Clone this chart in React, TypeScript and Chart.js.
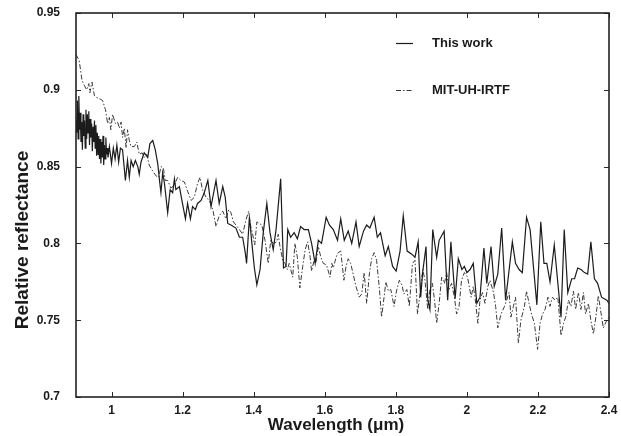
import React, { useEffect, useRef } from "react";
import { Chart, registerables } from "chart.js";

Chart.register(...registerables);

const seriesLabels = ["This work", "MIT-UH-IRTF"];
const xTitle = "Wavelength (\u03bcm)";
const yTitle = "Relative reflectance";
const xTickValues = [1, 1.2, 1.4, 1.6, 1.8, 2, 2.2, 2.4];
const yTickValues = [0.7, 0.75, 0.8, 0.85, 0.9, 0.95];

const thisWorkWavelength = [
  0.900, 0.902, 0.904, 0.906, 0.908, 0.910, 0.912, 0.914, 0.916, 0.918,
  0.920, 0.922, 0.924, 0.926, 0.928, 0.930, 0.932, 0.934, 0.936, 0.938,
  0.940, 0.942, 0.944, 0.946, 0.948, 0.950, 0.952, 0.954, 0.956, 0.958,
  0.960, 0.962, 0.964, 0.966, 0.968, 0.970, 0.972, 0.974, 0.976, 0.978,
  0.980, 0.982, 0.984, 0.986, 0.988, 0.990,
  0.994, 1.000, 1.005, 1.010, 1.015, 1.020, 1.025, 1.031, 1.039, 1.045,
  1.050, 1.055, 1.061, 1.067, 1.074, 1.078, 1.083, 1.092, 1.102, 1.108,
  1.116, 1.123, 1.130, 1.135, 1.139, 1.144, 1.149, 1.158, 1.165, 1.172,
  1.177, 1.181, 1.191, 1.198, 1.208, 1.214, 1.222, 1.228, 1.236, 1.242,
  1.252, 1.261, 1.271, 1.280, 1.294, 1.303, 1.313, 1.320, 1.327, 1.336,
  1.350, 1.360, 1.369, 1.377, 1.380, 1.388, 1.395, 1.402, 1.409, 1.418,
  1.427, 1.437, 1.446, 1.455, 1.463, 1.476, 1.484, 1.491, 1.496, 1.504,
  1.514, 1.523, 1.532, 1.542, 1.554, 1.563, 1.573, 1.582, 1.591, 1.604,
  1.613, 1.624, 1.636, 1.645, 1.655, 1.666, 1.676, 1.688, 1.697, 1.709,
  1.718, 1.727, 1.739, 1.748, 1.757, 1.770, 1.779, 1.791, 1.801, 1.812,
  1.821, 1.832, 1.845, 1.854, 1.863, 1.870, 1.876, 1.885, 1.890, 1.896,
  1.904, 1.915, 1.922, 1.936, 1.946, 1.955, 1.967, 1.976, 1.986, 1.993,
  2.000, 2.009, 2.018, 2.028, 2.037, 2.048, 2.056, 2.068, 2.077, 2.087,
  2.098, 2.109, 2.128, 2.137, 2.147, 2.156, 2.168, 2.178, 2.197, 2.208,
  2.217, 2.225, 2.234, 2.246, 2.265, 2.274, 2.284, 2.295, 2.303, 2.312,
  2.321, 2.331, 2.340, 2.349, 2.359, 2.368, 2.379, 2.394, 2.400,
];

const thisWorkReflectance = [
  0.880, 0.872, 0.893, 0.868, 0.896, 0.874, 0.885, 0.866, 0.879, 0.861,
  0.884, 0.870, 0.880, 0.862, 0.887, 0.868, 0.884, 0.872, 0.886, 0.864,
  0.881, 0.869, 0.878, 0.860, 0.876, 0.866, 0.880, 0.862, 0.877, 0.857,
  0.872, 0.858, 0.870, 0.855, 0.868, 0.852, 0.866, 0.856, 0.870, 0.851,
  0.864, 0.855, 0.869, 0.858, 0.862, 0.856,
  0.863, 0.852, 0.862, 0.855, 0.864, 0.853, 0.862, 0.861, 0.841, 0.854,
  0.843, 0.854, 0.850, 0.854, 0.850, 0.845, 0.853, 0.859, 0.856, 0.865,
  0.867, 0.861, 0.852, 0.841, 0.833, 0.846, 0.839, 0.820, 0.835, 0.833,
  0.842, 0.835, 0.837, 0.828, 0.816, 0.826, 0.816, 0.824, 0.822, 0.826,
  0.828, 0.833, 0.841, 0.824, 0.841, 0.826, 0.837, 0.830, 0.813, 0.812,
  0.810, 0.804, 0.804, 0.793, 0.787, 0.817, 0.800, 0.784, 0.773, 0.783,
  0.807, 0.826, 0.807, 0.796, 0.809, 0.842, 0.784, 0.785, 0.809, 0.804,
  0.807, 0.803, 0.811, 0.809, 0.809, 0.800, 0.787, 0.802, 0.800, 0.817,
  0.812, 0.809, 0.802, 0.816, 0.802, 0.808, 0.800, 0.814, 0.798, 0.808,
  0.812, 0.810, 0.817, 0.804, 0.807, 0.792, 0.798, 0.785, 0.782, 0.795,
  0.818, 0.795, 0.793, 0.791, 0.801, 0.765, 0.782, 0.798, 0.763, 0.757,
  0.809, 0.791, 0.802, 0.808, 0.763, 0.801, 0.764, 0.790, 0.783, 0.785,
  0.781, 0.783, 0.787, 0.761, 0.765, 0.797, 0.774, 0.798, 0.772, 0.780,
  0.810, 0.763, 0.801, 0.787, 0.783, 0.781, 0.817, 0.809, 0.760, 0.814,
  0.787, 0.787, 0.775, 0.799, 0.752, 0.809, 0.768, 0.777, 0.777, 0.784,
  0.783, 0.781, 0.780, 0.801, 0.777, 0.774, 0.765, 0.763, 0.761,
];

const mitWavelength = [
  0.900, 0.909, 0.917, 0.923, 0.930, 0.936, 0.939, 0.945, 0.952, 0.958,
  0.968, 0.975, 0.983, 0.989, 0.994, 0.998, 1.003, 1.011, 1.017, 1.022,
  1.027, 1.031, 1.036, 1.041, 1.045, 1.050, 1.055, 1.064, 1.071, 1.078,
  1.086, 1.092, 1.099, 1.106, 1.116, 1.125, 1.133, 1.139, 1.146, 1.151,
  1.158, 1.167, 1.177, 1.186, 1.195, 1.205, 1.214, 1.224, 1.233, 1.242,
  1.249, 1.256, 1.266, 1.275, 1.285, 1.294, 1.303, 1.313, 1.322, 1.330,
  1.336, 1.343, 1.350, 1.360, 1.369, 1.378, 1.386, 1.392, 1.397, 1.403,
  1.409, 1.423, 1.432, 1.441, 1.448, 1.455, 1.465, 1.469, 1.474, 1.482,
  1.488, 1.495, 1.500, 1.510, 1.516, 1.523, 1.530, 1.538, 1.545, 1.552,
  1.559, 1.563, 1.570, 1.575, 1.582, 1.589, 1.596, 1.605, 1.615, 1.620,
  1.624, 1.632, 1.638, 1.645, 1.654, 1.660, 1.666, 1.673, 1.679, 1.688,
  1.697, 1.704, 1.711, 1.718, 1.726, 1.732, 1.739, 1.746, 1.754, 1.760,
  1.767, 1.772, 1.779, 1.786, 1.795, 1.802, 1.810, 1.817, 1.823, 1.831,
  1.838, 1.847, 1.854, 1.861, 1.868, 1.876, 1.882,
  1.890, 1.896, 1.903, 1.909, 1.915, 1.922, 1.929, 1.937, 1.943, 1.950,
  1.957, 1.965, 1.971, 1.978, 1.985, 1.993, 2.002, 2.012, 2.018, 2.023,
  2.031, 2.037, 2.044, 2.051, 2.059, 2.065, 2.075, 2.081, 2.087, 2.096,
  2.106, 2.112, 2.119, 2.124, 2.131, 2.137, 2.145, 2.152, 2.162, 2.168,
  2.175, 2.182, 2.190, 2.199, 2.206, 2.213, 2.220, 2.228, 2.234, 2.241,
  2.248, 2.256, 2.265, 2.272, 2.278, 2.286, 2.293, 2.300, 2.306, 2.314,
  2.321, 2.328, 2.334, 2.342, 2.349, 2.356, 2.363, 2.370, 2.378, 2.384,
  2.394, 2.400,
];

const mitReflectance = [
  0.923, 0.919, 0.906, 0.903, 0.900, 0.904, 0.898, 0.905, 0.896, 0.895,
  0.894, 0.893, 0.887, 0.878, 0.882, 0.874, 0.884, 0.878, 0.879, 0.875,
  0.879, 0.869, 0.875, 0.862, 0.874, 0.867, 0.863, 0.863, 0.866, 0.858,
  0.859, 0.856, 0.858, 0.851, 0.847, 0.844, 0.843, 0.850, 0.849, 0.841,
  0.841, 0.836, 0.838, 0.843, 0.841, 0.840, 0.834, 0.828, 0.830, 0.839,
  0.843, 0.835, 0.830, 0.828, 0.822, 0.811, 0.818, 0.821, 0.816, 0.822,
  0.820, 0.814, 0.812, 0.809, 0.806, 0.815, 0.821, 0.811, 0.806, 0.799,
  0.814, 0.812, 0.802, 0.787, 0.802, 0.800, 0.801, 0.806, 0.798, 0.789,
  0.787, 0.783, 0.787, 0.778, 0.800, 0.791, 0.771, 0.785, 0.796, 0.801,
  0.791, 0.782, 0.789, 0.787, 0.798, 0.791, 0.787, 0.786, 0.778, 0.787,
  0.784, 0.791, 0.794, 0.795, 0.776, 0.785, 0.790, 0.787, 0.781, 0.772,
  0.765, 0.767, 0.781, 0.761, 0.781, 0.790, 0.794, 0.789, 0.770, 0.752,
  0.765, 0.775, 0.769, 0.770, 0.759, 0.769, 0.776, 0.773, 0.767, 0.770,
  0.759, 0.787, 0.789, 0.754, 0.767, 0.783, 0.776,
  0.757, 0.770, 0.774, 0.763, 0.748, 0.761, 0.778, 0.774, 0.781, 0.770,
  0.774, 0.765, 0.754, 0.759, 0.776, 0.781, 0.778, 0.765, 0.772, 0.765,
  0.748, 0.763, 0.768, 0.761, 0.772, 0.776, 0.768, 0.759, 0.745, 0.754,
  0.759, 0.763, 0.768, 0.752, 0.759, 0.765, 0.735, 0.750, 0.759, 0.769,
  0.761, 0.754, 0.748, 0.731, 0.748, 0.754, 0.757, 0.765, 0.759, 0.765,
  0.763, 0.765, 0.740, 0.748, 0.752, 0.763, 0.759, 0.769, 0.757, 0.768,
  0.757, 0.768, 0.754, 0.761, 0.750, 0.741, 0.752, 0.766, 0.754, 0.745,
  0.750, 0.752,
];

const FONT = "'Liberation Sans', Arial, Helvetica, sans-serif";
const SOLID_COLOR = "#1c1c1c";
const DASH_COLOR = "#3a3a3a";
const DASH_PATTERN = [5, 2, 1.5, 2];

const framePlugin = {
  id: "frameAndLegend",
  afterDraw(chart: any) {
    const { ctx, chartArea, scales } = chart;
    const { left, right, top, bottom } = chartArea;
    const xs = scales.x;
    const ys = scales.y;
    const tick = 5;
    ctx.save();
    ctx.strokeStyle = "#2a2a2a";
    ctx.lineWidth = 1;
    ctx.beginPath();
    for (const v of xTickValues) {
      const px = Math.round(xs.getPixelForValue(v)) + 0.5;
      ctx.moveTo(px, bottom);
      ctx.lineTo(px, bottom - tick);
      ctx.moveTo(px, top);
      ctx.lineTo(px, top + tick);
    }
    for (const v of yTickValues) {
      const py = Math.round(ys.getPixelForValue(v)) + 0.5;
      ctx.moveTo(left, py);
      ctx.lineTo(left + tick, py);
      ctx.moveTo(right, py);
      ctx.lineTo(right - tick, py);
    }
    ctx.stroke();
    ctx.lineWidth = 1.6;
    ctx.strokeStyle = "#222";
    ctx.strokeRect(left, top, right - left, bottom - top);

    // axis titles
    ctx.fillStyle = "#1a1a1a";
    ctx.textAlign = "center";
    ctx.textBaseline = "middle";
    ctx.font = `bold 17px ${FONT}`;
    ctx.fillText(xTitle, left + 260, bottom + 28);
    ctx.save();
    ctx.translate(23, top + 227);
    ctx.rotate(-Math.PI / 2);
    ctx.font = `bold 19px ${FONT}`;
    ctx.fillText(yTitle, 0, 0);
    ctx.restore();

    // legend
    const lx0 = left + 320;
    const lx1 = left + 337;
    const tx = left + 356;
    const ly1 = top + 30;
    const ly2 = top + 77;
    ctx.font = `bold 13px ${FONT}`;
    ctx.fillStyle = "#1a1a1a";
    ctx.textBaseline = "middle";
    ctx.textAlign = "left";
    ctx.lineWidth = 1.2;
    ctx.strokeStyle = SOLID_COLOR;
    ctx.beginPath();
    ctx.moveTo(lx0, ly1 + 0.5);
    ctx.lineTo(lx1, ly1 + 0.5);
    ctx.stroke();
    ctx.fillText(seriesLabels[0], tx, ly1);
    ctx.lineWidth = 1;
    ctx.strokeStyle = DASH_COLOR;
    ctx.setLineDash(DASH_PATTERN);
    ctx.beginPath();
    ctx.moveTo(lx0, ly2 + 0.5);
    ctx.lineTo(lx1, ly2 + 0.5);
    ctx.stroke();
    ctx.setLineDash([]);
    ctx.fillText(seriesLabels[1], tx, ly2);
    ctx.restore();
  },
};

export default function App() {
  const canvasRef = useRef<HTMLCanvasElement | null>(null);

  useEffect(() => {
    const canvas = canvasRef.current;
    if (!canvas) return;
    const solidData = thisWorkWavelength.map((w, i) => ({ x: w, y: thisWorkReflectance[i] }));
    const mitData = mitWavelength.map((w, i) => ({ x: w, y: mitReflectance[i] }));
    const fmt = (v: any) => String(Number(Number(v).toFixed(2)));

    const chart = new Chart(canvas, {
      type: "line",
      data: {
        datasets: [
          {
            label: seriesLabels[0],
            data: solidData,
            borderColor: SOLID_COLOR,
            borderWidth: 1.2,
            pointRadius: 0,
            tension: 0,
            fill: false,
          },
          {
            label: seriesLabels[1],
            data: mitData,
            borderColor: DASH_COLOR,
            borderWidth: 1,
            borderDash: DASH_PATTERN,
            pointRadius: 0,
            tension: 0,
            fill: false,
          },
        ],
      },
      options: {
        responsive: false,
        animation: false,
        events: [],
        layout: { autoPadding: false, padding: { left: 0, right: 12, top: 13, bottom: 0 } },
        plugins: {
          legend: { display: false },
          tooltip: { enabled: false },
          title: { display: false },
        },
        scales: {
          x: {
            type: "linear",
            min: 0.9,
            max: 2.4,
            afterBuildTicks: (scale: any) => {
              scale.ticks = xTickValues.map((v) => ({ value: v }));
            },
            afterFit: (scale: any) => {
              scale.height = 39;
              scale.paddingLeft = 0;
              scale.paddingRight = 0;
              scale.paddingTop = 0;
              scale.paddingBottom = 0;
            },
            grid: { display: false, drawTicks: false },
            border: { display: false },
            ticks: {
              padding: 6,
              color: "#1a1a1a",
              font: { family: FONT, size: 12, weight: "bold" },
              callback: fmt,
              maxRotation: 0,
              autoSkip: false,
            },
            title: { display: false },
          },
          y: {
            type: "linear",
            min: 0.7,
            max: 0.95,
            afterBuildTicks: (scale: any) => {
              scale.ticks = yTickValues.map((v) => ({ value: v }));
            },
            afterFit: (scale: any) => {
              scale.width = 76;
              scale.paddingLeft = 0;
              scale.paddingRight = 0;
              scale.paddingTop = 0;
              scale.paddingBottom = 0;
            },
            grid: { display: false, drawTicks: false },
            border: { display: false },
            ticks: {
              padding: 16,
              color: "#1a1a1a",
              font: { family: FONT, size: 12, weight: "bold" },
              callback: fmt,
              autoSkip: false,
            },
            title: { display: false },
          },
        },
      },
      plugins: [framePlugin],
    } as any);

    return () => chart.destroy();
  }, []);

  return (
    <div style={{ position: "absolute", left: 0, top: 0, width: 621, height: 436, background: "#fff" }}>
      <canvas ref={canvasRef} width={621} height={436} style={{ width: 621, height: 436, display: "block" }} />
    </div>
  );
}
